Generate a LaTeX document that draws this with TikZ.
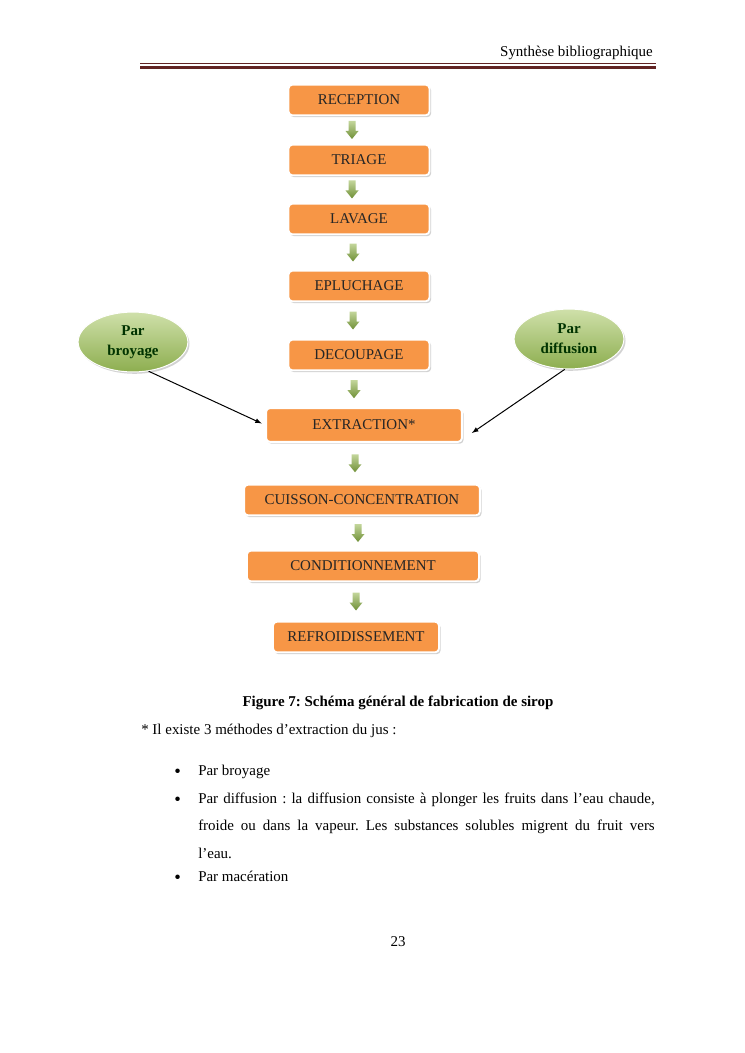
\documentclass[tikz,border=0pt]{standalone}
\usepackage{fontspec}
\setmainfont{Liberation Serif}
\usetikzlibrary{calc, shapes.geometric, shadows}
\frenchspacing

\definecolor{boxorange}{HTML}{F79646}
\definecolor{rulered}{HTML}{622423}
\definecolor{leafhi}{HTML}{CFE0AA}
\definecolor{leaflo}{HTML}{8DAE4F}
\definecolor{arrowhi}{HTML}{C3D69B}
\definecolor{arrowlo}{HTML}{6F8F36}

\def\px{0.8017pt}

\tikzset{
	stepbox/.style={rectangle, rounded corners=3pt, fill=boxorange, draw=white, line width=1.5pt,
			drop shadow={shadow xshift=1.3pt, shadow yshift=-1.5pt, opacity=0.35},
			minimum height=24.5pt, inner sep=2pt, font=\fontsize{12}{14}\selectfont, text=black!85},
	method/.style={ellipse, draw=white, line width=0.8pt, top color=leafhi, bottom color=leaflo,
			drop shadow={shadow xshift=1.3pt, shadow yshift=-1.5pt, opacity=0.35},
			minimum width=88pt, minimum height=48pt, inner sep=0pt, align=center,
			font=\bfseries\fontsize{12}{16}\selectfont, text=black!80!green},
	downarrow/.style={top color=arrowhi, bottom color=arrowlo, draw=none},
	bodytext/.style={anchor=base west, inner sep=0pt, font=\fontsize{12}{22.4}\selectfont},
	dot/.style={anchor=base west, inner sep=0pt, font=\fontsize{15}{15}\selectfont},
}

\begin{document}
\begin{tikzpicture}[x=\px, y=-\px]
	\fill[white] (0, 0) rectangle (745, 1053);
	\useasboundingbox (0, 0) rectangle (745, 1053);

	% en-tete
	\node[anchor=base east, inner sep=0pt, font=\fontsize{12}{14}\selectfont] (header) at (653, 57) {Synthèse bibliographique};
	\draw[rulered, line width=0.8pt] (140, 63.5) -- (656, 63.5);
	\draw[rulered, line width=2.4pt] (140, 67.2) -- (656, 67.2);

	% etapes
	\node[stepbox, minimum width=113pt] (rec) at (359, 100) {RECEPTION};
	\node[stepbox, minimum width=113pt] (tri) at (359, 160) {TRIAGE};
	\node[stepbox, minimum width=113pt] (lav) at (359, 219) {LAVAGE};
	\node[stepbox, minimum width=113pt] (epl) at (359, 286) {EPLUCHAGE};
	\node[stepbox, minimum width=113pt] (dec) at (359, 355) {DECOUPAGE};
	\node[stepbox, minimum width=157pt, minimum height=27pt] (extr) at (364, 425) {EXTRACTION*};
	\node[stepbox, minimum width=189pt] (cuis) at (362, 500) {CUISSON-CONCENTRATION};
	\node[stepbox, minimum width=186pt] (cond) at (363, 566) {CONDITIONNEMENT};
	\node[stepbox, minimum width=133pt] (refr) at (356, 637) {REFROIDISSEMENT};

	\foreach \a/\b/\x in {rec/tri/352, tri/lav/352, lav/epl/353, epl/dec/353, dec/extr/354, extr/cuis/355, cuis/cond/358, cond/refr/356} {
			\coordinate (m) at ($(\a.south)!0.5!(\b.north)$);
			\shade[downarrow] (m -| \x,0) ++(-3.5, -9) -- ++(7, 0) -- ++(0, 10) -- ++(3, 0)
				-- ++(-6.5, 8) -- ++(-6.5, -8) -- ++(3, 0) -- cycle;
		}

	% methodes d'extraction
	\node[method] (broy) at (133, 342) {Par\\broyage};
	\node[method] (diff) at (569, 339) {Par\\diffusion};
	\coordinate (diffend) at ($(extr.east) + (9, 8)$);
	\draw[-latex, line width=0.8pt, shorten >=3pt] (broy.-62) -- (extr.west);
	\draw[-latex, line width=0.8pt] (diff.-98) -- (diffend);

	% legende et texte
	\node[anchor=base, inner sep=0pt, font=\bfseries\fontsize{12}{14}\selectfont] (caption) at (398, 706) {Figure 7: Schéma général de fabrication de sirop};
	\node[bodytext] (intro) at (141, 734) {* Il existe 3 méthodes d’extraction du jus :};

	\node[dot] (b1) at (174, 777) {\textbullet};
	\node[bodytext] (t1) at (198, 775) {Par broyage};
	\node[dot] (b2) at (174, 805) {\textbullet};
	\node[bodytext, text width=366pt, align=justify] (t2) at (198, 803) {Par diffusion : la diffusion consiste à plonger les fruits dans l’eau chaude,\linebreak froide ou dans la vapeur. Les substances solubles migrent du fruit vers\linebreak l’eau.};
	\node[dot] (b3) at (174, 883) {\textbullet};
	\node[bodytext] (t3) at (198, 881) {Par macération};

	\node[anchor=base, inner sep=0pt, font=\fontsize{12}{14}\selectfont] (pagenum) at (398, 946) {23};
\end{tikzpicture}
\end{document}
